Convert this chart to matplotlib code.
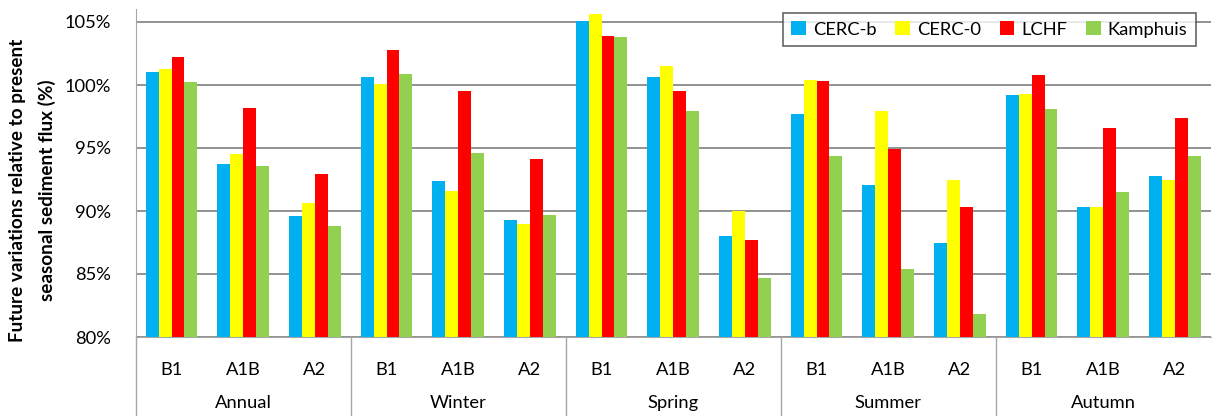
import numpy as np
import matplotlib
matplotlib.use("Agg")
import matplotlib.pyplot as plt
import matplotlib.transforms as mtransforms

plt.rcParams['font.family'] = ['Lato', 'DejaVu Sans']

# data (percent of present flux)
seasons = ['Annual', 'Winter', 'Spring', 'Summer', 'Autumn']
scenarios = ['B1', 'A1B', 'A2']
series_names = ['CERC-b', 'CERC-0', 'LCHF', 'Kamphuis']
colors = ['#00B0F0', '#FFFF00', '#FF0000', '#92D050']

cerc_b = [101.0, 93.7, 89.6, 100.6, 92.4, 89.3, 105.1, 100.6, 88.0, 97.7, 92.1, 87.5, 99.2, 90.3, 92.8]
cerc_0 = [101.3, 94.5, 90.6, 100.1, 91.6, 89.0, 105.6, 101.5, 90.0, 100.4, 97.9, 92.5, 99.3, 90.3, 92.5]
lchf = [102.2, 98.2, 92.9, 102.8, 99.5, 94.1, 103.9, 99.5, 87.7, 100.3, 94.9, 90.3, 100.8, 96.6, 97.4]
kamphuis = [100.2, 93.6, 88.8, 100.9, 94.6, 89.7, 103.8, 97.9, 84.7, 94.4, 85.4, 81.8, 98.1, 91.5, 94.4]

series = [cerc_b, cerc_0, lchf, kamphuis]

fig = plt.figure(figsize=(12.12, 4.16), dpi=100)
ax_bottom = 1 - 337 / 416
ax_top = 1 - 9.4 / 416
ax_left = 135.7 / 1212
ax = fig.add_axes([ax_left, ax_bottom, 1 - ax_left - 0.001, ax_top - ax_bottom])

x = np.arange(len(seasons) * len(scenarios))
w = 0.18
for i, (vals, c, name) in enumerate(zip(series, colors, series_names)):
    ax.bar(x + (i - 1.5) * w, np.array(vals) - 80, width=w, bottom=80, color=c, label=name, zorder=3)

fs = 13.2
ax.set_ylim(80, 106)
ax.set_xlim(-0.5, len(x) - 0.5)
ax.set_yticks([80, 85, 90, 95, 100, 105])
ax.set_yticklabels(['{}%'.format(v) for v in [80, 85, 90, 95, 100, 105]], fontsize=fs)
ax.grid(axis='y', color='#7f7f7f', linewidth=1.2, zorder=0)
ax.tick_params(axis='y', length=0, pad=18)

ax.set_xticks(x)
ax.set_xticklabels(scenarios * len(seasons), fontsize=fs)
ax.tick_params(axis='x', length=0, pad=18)

for s in ['top', 'right']:
    ax.spines[s].set_visible(False)
ax.spines['left'].set_color('#a6a6a6')
ax.spines['bottom'].set_color('#a6a6a6')

# season labels and separators under the axis
trans = mtransforms.blended_transform_factory(ax.transData, fig.transFigure)
for k, season in enumerate(seasons):
    ax.text(k * 3 + 1, 1 - 403 / 416, season, transform=trans, ha='center', va='center', fontsize=fs)
for k in range(len(seasons)):
    ax.plot([k * 3 - 0.5, k * 3 - 0.5], [0, ax_bottom], transform=trans, color='#a6a6a6',
            linewidth=1, clip_on=False)

ylab_y = 1 - 190.5 / 416
fig.text(18 / 1212, ylab_y, 'Future variations relative to present', rotation=90,
         ha='center', va='center', fontsize=13.6, fontweight='bold')
fig.text(47 / 1212, ylab_y, 'seasonal sediment flux (%)', rotation=90,
         ha='center', va='center', fontsize=13.6, fontweight='bold')

leg = ax.legend(loc='upper right', bbox_to_anchor=(1205 / 1212, 1 - 4 / 416), bbox_transform=fig.transFigure,
                ncol=4, fontsize=fs, frameon=True, fancybox=False, handlelength=0.8, handleheight=0.8,
                handletextpad=0.4, columnspacing=1.0, borderpad=0.45)
leg.get_frame().set_edgecolor('#404040')
leg.get_frame().set_linewidth(1.2)

fig.savefig('out.png', dpi=100)
